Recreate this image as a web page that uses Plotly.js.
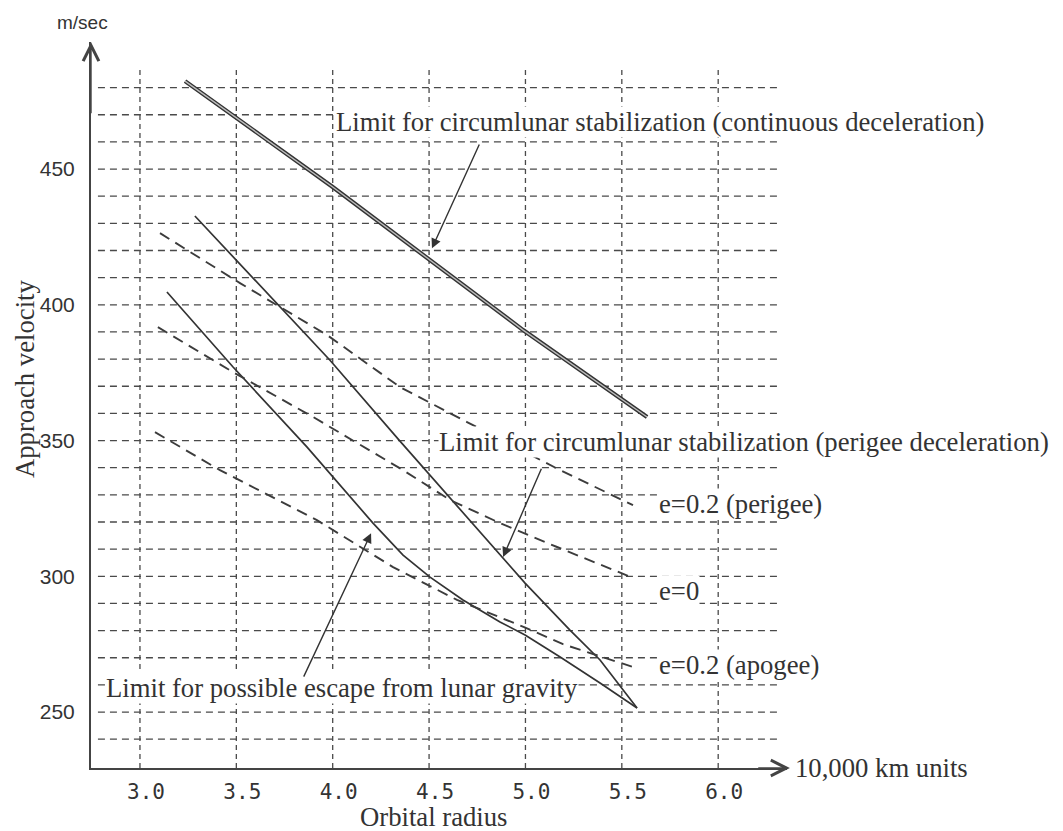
<!DOCTYPE html>
<html>
<head>
<meta charset="utf-8">
<script src="https://cdn.plot.ly/plotly-3.0.1.min.js"></script>
<style>
  html, body { margin: 0; padding: 0; background: #ffffff; }
  #chart { width: 1063px; height: 831px; }
</style>
</head>
<body>
<div id="chart"></div>
<script>
// ---- tick values / labels ----
const xTickVals = [3.0, 3.5, 4.0, 4.5, 5.0, 5.5, 6.0];
const xTickText = ['3.0', '3.5', '4.0', '4.5', '5.0', '5.5', '6.0'];
const yTickVals = [250, 300, 350, 400, 450];
const yTickText = ['250', '300', '350', '400', '450'];
const gridYVals = [240, 250, 260, 270, 280, 290, 300, 310, 320, 330, 340, 350, 360,
                   370, 380, 390, 400, 410, 420, 430, 440, 450, 460, 470, 480];
const gridXVals = [3.0, 3.5, 4.0, 4.5, 5.0, 5.5, 6.0];

// ---- series (orbital radius in 10,000 km, approach velocity in m/sec) ----
// Limit for circumlunar stabilization (continuous deceleration)
const contX = [3.234, 4.000, 4.988, 5.631];
const contY = [482.4, 443.4, 390.7, 358.7];

// Limit for circumlunar stabilization (perigee deceleration)
const periX = [3.285, 3.483, 3.711, 3.986, 4.349, 4.609, 4.998, 5.231, 5.387, 5.579];
const periY = [432.7, 417.6, 400.6, 379.6, 349.8, 328.8, 297.5, 280.2, 269.2, 251.5];

// Limit for possible escape from lunar gravity
const escX = [3.140, 3.483, 3.867, 4.209, 4.365, 4.505, 4.676, 4.868, 4.998, 5.180, 5.387, 5.579];
const escY = [404.7, 377.1, 347.6, 319.6, 307.8, 299.7, 291.3, 283.2, 278.4, 270.3, 260.7, 251.5];

// e=0.2 (perigee)
const e2pX = [3.104, 3.519, 3.970, 4.349, 4.697, 5.180, 5.558];
const e2pY = [426.4, 408.0, 388.9, 369.7, 356.8, 339.1, 326.2];

// e=0
const e0X = [3.093, 3.483, 3.898, 4.365, 4.609, 4.868, 5.164, 5.558];
const e0Y = [391.8, 375.2, 358.7, 339.1, 328.1, 319.6, 310.8, 299.4];

// e=0.2 (apogee)
const e2aX = [3.078, 3.415, 3.918, 4.313, 4.645, 4.993, 5.195, 5.558];
const e2aY = [353.1, 339.1, 320.7, 303.4, 291.3, 281.3, 275.0, 266.6];

// ---- ranges ----
const xMin = 2.746, xMax = 6.357;
const yMin = 229.4, yMax = 496.8;
const gridXStart = 2.782, gridXEnd = 6.306, gridYTop = 487.6;

const INK = '#333333';
const GRID = '#4a4a4a';
const SERIF = 'Liberation Serif, Times New Roman, serif';

const traces = [
  // double line: dark outer + light inner
  {x: contX, y: contY, mode: 'lines', line: {color: INK, width: 4.2}, hoverinfo: 'skip', showlegend: false},
  {x: contX, y: contY, mode: 'lines', line: {color: '#bdbdbd', width: 1.4}, hoverinfo: 'skip', showlegend: false},
  {x: periX, y: periY, mode: 'lines', line: {color: INK, width: 1.7}, showlegend: false},
  {x: escX, y: escY, mode: 'lines', line: {color: INK, width: 1.7}, showlegend: false},
  {x: e2pX, y: e2pY, mode: 'lines', line: {color: '#3c3c3c', width: 1.9, dash: '11px,7px'}, showlegend: false},
  {x: e0X, y: e0Y, mode: 'lines', line: {color: '#3c3c3c', width: 1.9, dash: '11px,7px'}, showlegend: false},
  {x: e2aX, y: e2aY, mode: 'lines', line: {color: '#3c3c3c', width: 1.9, dash: '11px,7px'}, showlegend: false}
];

const shapes = [];
gridYVals.forEach(v => shapes.push({
  type: 'line', xref: 'x', yref: 'y', x0: gridXStart, x1: gridXEnd, y0: v, y1: v,
  line: {color: GRID, width: 1.3, dash: '7px,5px'}, layer: 'below'
}));
gridXVals.forEach(v => shapes.push({
  type: 'line', xref: 'x', yref: 'y', x0: v, x1: v, y0: yMin, y1: gridYTop,
  line: {color: GRID, width: 1.3, dash: '5px,4px'}, layer: 'below'
}));

const textFont = {family: SERIF, size: 26.7, color: '#333'};

function label(txt, x, y, opts) {
  return Object.assign({
    text: txt, x: x, y: y, xref: 'x', yref: 'y', showarrow: false,
    xanchor: 'left', yanchor: 'middle', font: textFont,
    bgcolor: 'rgba(255,255,255,1)', borderpad: 0
  }, opts || {});
}
function pointer(tipX, tipY, tailX, tailY) {
  return {
    text: '', x: tipX, y: tipY, ax: tailX, ay: tailY, xref: 'x', yref: 'y',
    axref: 'x', ayref: 'y', showarrow: true, arrowhead: 2, arrowsize: 1.4,
    arrowwidth: 1.4, arrowcolor: '#333', standoff: 0, startstandoff: 0
  };
}

const annotations = [
  label('Limit for circumlunar stabilization (continuous deceleration)', 4.012, 467.3),
  pointer(4.515, 420.8, 4.764, 459.6),
  label('Limit for circumlunar stabilization (perigee deceleration)', 4.546, 349.5),
  pointer(4.884, 307.1, 5.086, 340.2),
  label('Limit for possible escape from lunar gravity', 2.818, 259.0),
  pointer(4.199, 315.9, 3.846, 262.5),
  label('e=0.2 (perigee)', 5.688, 326.8),
  label('e=0', 5.688, 294.6),
  label('e=0.2 (apogee)', 5.688, 267.3),
  // axis titles
  {text: 'm/sec', xref: 'paper', yref: 'paper', x: -0.0115, y: 1.0275, showarrow: false,
   xanchor: 'center', yanchor: 'middle', font: {family: 'Liberation Sans, Arial, sans-serif', size: 19, color: '#333'}},
  {text: 'Approach velocity', xref: 'paper', yref: 'paper', x: -0.0948, y: 0.5358, showarrow: false,
   textangle: -90, xanchor: 'center', yanchor: 'middle', font: textFont},
  {text: 'Orbital radius', xref: 'paper', yref: 'paper', x: 0.4928, y: -0.0675, showarrow: false,
   xanchor: 'center', yanchor: 'middle', font: textFont},
  {text: '10,000 km units', xref: 'paper', yref: 'paper', x: 1.0086, y: 0.0, showarrow: false,
   xanchor: 'left', yanchor: 'middle', font: textFont},
  // axis arrowheads
  {text: '', xref: 'x', yref: 'y', x: xMin, y: yMax, ax: xMin, ay: 470, axref: 'x', ayref: 'y',
   showarrow: true, arrowhead: 5, arrowsize: 2.2, arrowwidth: 1.4, arrowcolor: '#444', standoff: 0},
  {text: '', xref: 'x', yref: 'y', x: 6.372, y: yMin, ax: 6.2, ay: yMin, axref: 'x', ayref: 'y',
   showarrow: true, arrowhead: 5, arrowsize: 2.2, arrowwidth: 1.4, arrowcolor: '#444', standoff: 0}
];

const layout = {
  width: 1063, height: 831,
  margin: {l: 91, r: 276, t: 42, b: 63, pad: 0},
  paper_bgcolor: '#ffffff', plot_bgcolor: '#ffffff',
  showlegend: false,
  xaxis: {
    range: [xMin, xMax], showgrid: false, zeroline: false,
    showline: true, linecolor: '#444', linewidth: 2, mirror: false,
    tickmode: 'array', tickvals: xTickVals, ticktext: xTickText, ticks: '',
    tickfont: {family: 'DejaVu Sans Mono, Liberation Mono, monospace', size: 21, color: '#333'},
    ticklabelshift: 6, ticklabelstandoff: 4
  },
  yaxis: {
    range: [yMin, yMax], showgrid: false, zeroline: false,
    showline: true, linecolor: '#444', linewidth: 2, mirror: false,
    tickmode: 'array', tickvals: yTickVals, ticktext: yTickText, ticks: '',
    tickfont: {family: 'Liberation Sans, Arial, sans-serif', size: 21, color: '#333'},
    ticklabelstandoff: 10
  },
  shapes: shapes,
  annotations: annotations
};

Plotly.newPlot('chart', traces, layout, {displayModeBar: false, staticPlot: true});
</script>
</body>
</html>
